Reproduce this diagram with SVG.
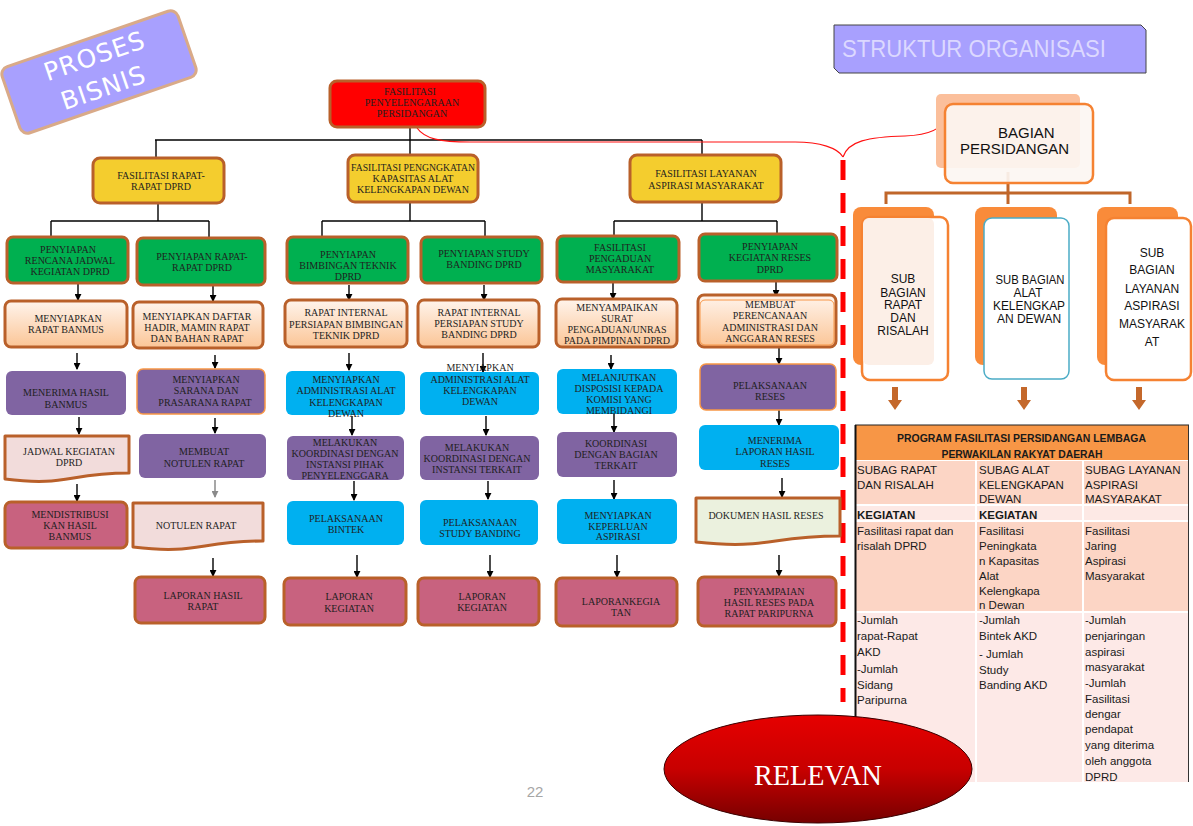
<svg xmlns="http://www.w3.org/2000/svg" width="1193" height="826" viewBox="0 0 1193 826">
<defs>
<linearGradient id="peach" x1="0" y1="0" x2="0" y2="1"><stop offset="0" stop-color="#FFF4EC"/><stop offset="1" stop-color="#FBC596"/></linearGradient>
<linearGradient id="relv" x1="0" y1="0" x2="0" y2="1"><stop offset="0" stop-color="#E60000"/><stop offset="0.5" stop-color="#C80000"/><stop offset="1" stop-color="#760000"/></linearGradient>
<marker id="ah" viewBox="0 0 8 8" refX="7" refY="4" markerWidth="7" markerHeight="7" markerUnits="userSpaceOnUse" orient="auto"><path d="M0,0 L8,4 L0,8 Z" fill="#000"/></marker>
<marker id="ahg" viewBox="0 0 8 8" refX="7" refY="4" markerWidth="7" markerHeight="7" markerUnits="userSpaceOnUse" orient="auto"><path d="M0,0 L8,4 L0,8 Z" fill="#8a8a8a"/></marker>
</defs>
<style>
.n text{font-family:"Liberation Serif",serif;font-size:10px;fill:#1f1f1f;text-anchor:middle}
.st{stroke:#B9602A;stroke-width:3}
.so{stroke:#F79646;stroke-width:1.5}
.g{fill:#00B050}
.y{fill:#F4CD2E}
.pe{fill:url(#peach)}
.pu{fill:#8064A2}
.c{fill:#00B0F0}
.r{fill:#C8627F}
.dp{fill:#F2DCDB}
.dg{fill:#EBF1DE}
.conn line{stroke:#000;stroke-width:1.4}
.ar{stroke:#000;stroke-width:1.2;marker-end:url(#ah)}
.sans{font-family:"Liberation Sans",Arial,sans-serif}
.tb text{font-family:"Liberation Sans",Arial,sans-serif;font-size:11.5px;fill:#1a1a1a}
.sub text{font-family:"Liberation Sans",Arial,sans-serif;font-size:12px;fill:#111;text-anchor:middle}
.blk{fill:#C4682B}
</style>
<rect width="1193" height="826" fill="#fff"/>

<!-- PROSES BISNIS -->
<g id="proses-bisnis" transform="rotate(-19 99 72)">
<rect x="6" y="37" width="186" height="70" rx="8" fill="#A8A0FE" stroke="#D9AA88" stroke-width="3"/>
<text x="100" y="64" font-family="DejaVu Sans,sans-serif" font-size="25" fill="#fff" text-anchor="middle" letter-spacing="1">PROSES</text>
<text x="98" y="97" font-family="DejaVu Sans,sans-serif" font-size="25" fill="#fff" text-anchor="middle" letter-spacing="1">BISNIS</text>
</g>

<!-- STRUKTUR ORGANISASI -->
<g id="struktur-organisasi">
<path d="M834,25 H1141 L1146,30 V73 H839 L834,68 Z" fill="#A8A0FE" stroke="#444" stroke-width="1"/>
<text x="842" y="57" class="sans" font-size="24" fill="#DCD8FF" textLength="264" lengthAdjust="spacingAndGlyphs">STRUKTUR ORGANISASI</text>
</g>

<!-- connectors -->
<g id="connectors" class="conn">
<line x1="410" y1="127" x2="410" y2="155"/>
<line x1="155" y1="140" x2="702" y2="140"/>
<line x1="156" y1="140" x2="156" y2="158"/>
<line x1="702" y1="140" x2="702" y2="155"/>
<line x1="158" y1="203" x2="158" y2="221"/>
<line x1="51" y1="221" x2="209" y2="221"/>
<line x1="51" y1="221" x2="51" y2="237"/>
<line x1="209" y1="221" x2="209" y2="238"/>
<line x1="410" y1="202" x2="410" y2="221"/>
<line x1="322" y1="221" x2="485" y2="221"/>
<line x1="322" y1="221" x2="322" y2="237"/>
<line x1="485" y1="221" x2="485" y2="237"/>
<line x1="702" y1="202" x2="702" y2="221"/>
<line x1="614" y1="221" x2="777" y2="221"/>
<line x1="614" y1="221" x2="614" y2="236"/>
<line x1="777" y1="221" x2="777" y2="234"/>
<!-- column arrows -->
<line class="ar" x1="78" y1="284" x2="78" y2="300"/>
<line class="ar" x1="77" y1="353" x2="77" y2="369"/>
<line class="ar" x1="79" y1="417" x2="79" y2="434"/>
<line class="ar" x1="77" y1="484" x2="77" y2="501"/>
<line class="ar" x1="213" y1="286" x2="213" y2="301"/>
<line class="ar" x1="215" y1="355" x2="215" y2="368"/>
<line class="ar" x1="215" y1="418" x2="215" y2="433"/>
<line x1="215" y1="480" x2="215" y2="497" style="stroke:#8a8a8a;stroke-width:1.5" marker-end="url(#ahg)"/>
<line class="ar" x1="213" y1="558" x2="213" y2="576"/>
<line class="ar" x1="349" y1="285" x2="349" y2="300"/>
<line class="ar" x1="349" y1="353" x2="349" y2="370"/>
<line class="ar" x1="352" y1="416" x2="352" y2="435"/>
<line class="ar" x1="354" y1="481" x2="354" y2="500"/>
<line class="ar" x1="357" y1="555" x2="357" y2="577"/>
<line class="ar" x1="484" y1="285" x2="484" y2="300"/>
<line class="ar" x1="483" y1="353" x2="483" y2="372"/>
<line class="ar" x1="486" y1="416" x2="486" y2="435"/>
<line class="ar" x1="488" y1="481" x2="488" y2="499"/>
<line class="ar" x1="490" y1="555" x2="490" y2="577"/>
<line class="ar" x1="613" y1="283" x2="613" y2="299"/>
<line class="ar" x1="611" y1="355" x2="611" y2="369"/>
<line class="ar" x1="614" y1="414" x2="614" y2="432"/>
<line class="ar" x1="614" y1="480" x2="614" y2="499"/>
<line class="ar" x1="617" y1="555" x2="617" y2="577"/>
<line class="ar" x1="776" y1="282" x2="776" y2="296"/>
<line class="ar" x1="779" y1="347" x2="779" y2="364"/>
<line class="ar" x1="779" y1="410" x2="779" y2="425"/>
<line class="ar" x1="782" y1="478" x2="782" y2="497"/>
<line class="ar" x1="779" y1="555" x2="779" y2="576"/>
<!-- red brace curve -->
<path d="M417,128 C425,139 440,142 470,142 L795,142 C820,142 838,148 843,157" fill="none" stroke="#FF1010" stroke-width="1.2"/>
<path d="M843,157 C848,141 868,137 905,136 C930,135 943,128 945,117" fill="none" stroke="#FF1010" stroke-width="1.2"/>
<line x1="843" y1="160" x2="843" y2="702" style="stroke:#FF0000;stroke-width:5;stroke-dasharray:20 13"/>
<!-- org chart connectors -->
<path d="M1008,172 V193 M886,204 V193 H1130 V204 M1008,193 V204" fill="none" stroke="#C0662A" stroke-width="3"/>
</g>

<!-- top -->
<g id="n-top" class="n"><rect x="330" y="81" width="155" height="46" rx="7" fill="#FF0000" class="st"/>
<text x="410" y="95">FASILITASI</text><text x="412" y="106">PENYELENGARAAN</text><text x="412" y="117">PERSIDANGAN</text></g>

<g id="n-a" class="n"><rect x="93" y="158" width="131" height="45" rx="7" class="y st"/>
<text x="161" y="178.5">FASILITASI RAPAT-</text><text x="161" y="189.5">RAPAT DPRD</text></g>
<g id="n-b" class="n"><rect x="348" y="155" width="130" height="47" rx="7" class="y st"/>
<text x="413" y="170.5" class="sans" font-size="9.5" textLength="124" lengthAdjust="spacingAndGlyphs">FASILITASI PENGNGKATAN</text>
<text x="413" y="181.5" class="sans" font-size="9.5">KAPASITAS ALAT</text>
<text x="413" y="192.5" class="sans" font-size="9.5">KELENGKAPAN DEWAN</text></g>
<g id="n-c" class="n"><rect x="630" y="155" width="151" height="47" rx="7" class="y st"/>
<text x="706" y="177">FASILITASI  LAYANAN</text><text x="706" y="188.5">ASPIRASI MASYARAKAT</text></g>

<!-- column 1 -->
<g id="c1-1" class="n"><rect x="7" y="237" width="121" height="46" rx="6" class="g st"/>
<text x="68" y="253">PENYIAPAN</text><text x="70" y="264">RENCANA JADWAL</text><text x="70" y="275">KEGIATAN DPRD</text></g>
<g id="c1-2" class="n"><rect x="5" y="301" width="122" height="46" rx="6" class="pe st"/>
<text x="68" y="322">MENYIAPKAN</text><text x="66" y="333">RAPAT BANMUS</text></g>
<g id="c1-3" class="n"><rect x="6" y="371" width="120" height="44" rx="6" class="pu"/>
<text x="66" y="396">MENERIMA HASIL</text><text x="66" y="407.5">BANMUS</text></g>
<g id="c1-4" class="n"><path d="M5,436 H129 V473 C67,473 67,487 5,479 Z" class="dp st" stroke-linejoin="round"/>
<text x="69" y="454.5">JADWAL KEGIATAN</text><text x="69" y="466">DPRD</text></g>
<g id="c1-5" class="n"><rect x="5" y="502" width="122" height="46" rx="6" class="r st"/>
<text x="70" y="518">MENDISTRIBUSI</text><text x="70" y="529">KAN HASIL</text><text x="70" y="540">BANMUS</text></g>

<!-- column 2 -->
<g id="c2-1" class="n"><rect x="137" y="238" width="128" height="47" rx="6" class="g st"/>
<text x="202" y="260">PENYIAPAN RAPAT-</text><text x="202" y="271">RAPAT DPRD</text></g>
<g id="c2-2" class="n"><rect x="133" y="302" width="130" height="46" rx="6" class="pe st"/>
<text x="197" y="320">MENYIAPKAN DAFTAR</text><text x="197" y="331">HADIR,  MAMIN RAPAT</text><text x="197" y="342">DAN BAHAN RAPAT</text></g>
<g id="c2-3" class="n"><rect x="137" y="369" width="128" height="45" rx="6" class="pu so"/>
<text x="206" y="383">MENYIAPKAN</text><text x="206" y="394">SARANA DAN</text><text x="205" y="406">PRASARANA RAPAT</text></g>
<g id="c2-4" class="n"><rect x="139" y="434" width="127" height="44" rx="6" class="pu"/>
<text x="204" y="455">MEMBUAT</text><text x="204" y="467">NOTULEN RAPAT</text></g>
<g id="c2-5" class="n"><path d="M133,503 H263 V541 C198,541 198,555 133,547 Z" class="dp st" stroke-linejoin="round"/>
<text x="196" y="529">NOTULEN RAPAT</text></g>
<g id="c2-6" class="n"><rect x="135" y="577" width="130" height="46" rx="6" class="r st"/>
<text x="203" y="599">LAPORAN HASIL</text><text x="203" y="610">RAPAT</text></g>

<!-- column 3 -->
<g id="c3-1" class="n"><rect x="287" y="237" width="121" height="46" rx="6" class="g st"/>
<text x="348" y="258">PENYIAPAN</text><text x="348" y="269">BIMBINGAN TEKNIK</text><text x="348" y="280">DPRD</text></g>
<g id="c3-2" class="n"><rect x="285" y="300" width="122" height="47" rx="6" class="pe st"/>
<text x="346" y="316">RAPAT INTERNAL</text><text x="346" y="327.5">PERSIAPAN BIMBINGAN</text><text x="346" y="339">TEKNIK DPRD</text></g>
<g id="c3-3" class="n"><rect x="286" y="371" width="119" height="44" rx="6" class="c"/>
<text x="346" y="382.5">MENYIAPKAN</text><text x="346" y="394">ADMINISTRASI ALAT</text><text x="346" y="405.5">KELENGKAPAN</text><text x="346" y="417">DEWAN</text></g>
<g id="c3-4" class="n"><rect x="287" y="436" width="117" height="44" rx="6" class="pu"/>
<text x="345" y="445.5">MELAKUKAN</text><text x="345" y="456.5">KOORDINASI DENGAN</text><text x="345" y="467.5">INSTANSI  PIHAK</text><text x="345" y="479">PENYELENGGARA</text></g>
<g id="c3-5" class="n"><rect x="287" y="501" width="117" height="44" rx="6" class="c"/>
<text x="346" y="521.5">PELAKSANAAN</text><text x="346" y="533">BINTEK</text></g>
<g id="c3-6" class="n"><rect x="284" y="578" width="122" height="47" rx="6" class="r st"/>
<text x="349" y="600">LAPORAN</text><text x="349" y="611.5">KEGIATAN</text></g>

<!-- column 4 -->
<g id="c4-1" class="n"><rect x="421" y="237" width="121" height="46" rx="6" class="g st"/>
<text x="484" y="256.5">PENYIAPAN STUDY</text><text x="484" y="267.5">BANDING DPRD</text></g>
<g id="c4-2" class="n"><rect x="418" y="300" width="121" height="47" rx="6" class="pe st"/>
<text x="479" y="315.5">RAPAT INTERNAL</text><text x="479" y="326.5">PERSIAPAN STUDY</text><text x="479" y="337.5">BANDING DPRD</text></g>
<g id="c4-3" class="n"><rect x="420" y="372" width="119" height="43" rx="6" class="c"/>
<text x="480" y="371">MENYIAPKAN</text><text x="480" y="382.5">ADMINISTRASI ALAT</text><text x="480" y="394">KELENGKAPAN</text><text x="480" y="405">DEWAN</text></g>
<g id="c4-4" class="n"><rect x="420" y="436" width="119" height="44" rx="6" class="pu"/>
<text x="477" y="450.5">MELAKUKAN</text><text x="477" y="462">KOORDINASI DENGAN</text><text x="477" y="472.5">INSTANSI TERKAIT</text></g>
<g id="c4-5" class="n"><rect x="420" y="500" width="118" height="45" rx="6" class="c"/>
<text x="480" y="525.5">PELAKSANAAN</text><text x="480" y="536.5">STUDY BANDING</text></g>
<g id="c4-6" class="n"><rect x="418" y="578" width="121" height="47" rx="6" class="r st"/>
<text x="482" y="599.5">LAPORAN</text><text x="482" y="611">KEGIATAN</text></g>

<!-- column 5 -->
<g id="c5-1" class="n"><rect x="557" y="236" width="122" height="46" rx="6" class="g st"/>
<text x="620" y="250.5">FASILITASI</text><text x="620" y="261.5">PENGADUAN</text><text x="620" y="272.5">MASYARAKAT</text></g>
<g id="c5-2" class="n"><rect x="556" y="299" width="121" height="48" rx="6" class="pe st"/>
<text x="617" y="310.5">MENYAMPAIKAN</text><text x="617" y="321.5">SURAT</text><text x="617" y="332.5">PENGADUAN/UNRAS</text><text x="617" y="343.5">PADA PIMPINAN DPRD</text></g>
<g id="c5-3" class="n"><rect x="557" y="369" width="120" height="45" rx="6" class="c"/>
<text x="619" y="380.5">MELANJUTKAN</text><text x="619" y="391.5">DISPOSISI KEPADA</text><text x="619" y="402.5">KOMISI YANG</text><text x="619" y="414">MEMBIDANGI</text></g>
<g id="c5-4" class="n"><rect x="557" y="432" width="120" height="45" rx="6" class="pu"/>
<text x="616" y="446.5">KOORDINASI</text><text x="616" y="457.5">DENGAN BAGIAN</text><text x="616" y="468.5">TERKAIT</text></g>
<g id="c5-5" class="n"><rect x="557" y="499" width="120" height="45" rx="6" class="c"/>
<text x="618" y="519">MENYIAPKAN</text><text x="618" y="529.5">KEPERLUAN</text><text x="618" y="540">ASPIRASI</text></g>
<g id="c5-6" class="n"><rect x="556" y="578" width="121" height="48" rx="6" class="r st"/>
<text x="621" y="604.5">LAPORANKEGIA</text><text x="621" y="615.5">TAN</text></g>

<!-- column 6 -->
<g id="c6-1" class="n"><rect x="699" y="234" width="138" height="47" rx="6" class="g st"/>
<text x="770" y="249.5">PENYIAPAN</text><text x="770" y="261">KEGIATAN RESES</text><text x="770" y="272.5">DPRD</text></g>
<g id="c6-2" class="n"><rect x="698" y="295" width="138" height="52" rx="6" class="pe st"/>
<rect x="700" y="300" width="134" height="45" rx="5" fill="none" stroke="#F79646" stroke-width="1"/>
<text x="770" y="307.5">MEMBUAT</text><text x="770" y="319">PERENCANAAN</text><text x="770" y="330.5">ADMINISTRASI DAN</text><text x="770" y="341.5">ANGGARAN RESES</text></g>
<g id="c6-3" class="n"><rect x="700" y="364" width="136" height="46" rx="6" class="pu so"/>
<text x="770" y="389">PELAKSANAAN</text><text x="770" y="400">RESES</text></g>
<g id="c6-4" class="n"><rect x="699" y="425" width="140" height="45" rx="6" class="c"/>
<text x="775" y="444">MENERIMA</text><text x="775" y="455">LAPORAN HASIL</text><text x="775" y="466.5">RESES</text></g>
<g id="c6-5" class="n"><path d="M696,498 H840 V536 C768,536 768,550 696,542 Z" class="dg st" stroke-linejoin="round"/>
<text x="766" y="519">DOKUMEN HASIL RESES</text></g>
<g id="c6-6" class="n"><rect x="698" y="577" width="138" height="49" rx="6" class="r st"/>
<text x="769" y="595">PENYAMPAIAN</text><text x="769" y="606">HASIL RESES PADA</text><text x="769" y="617">RAPAT PARIPURNA</text></g>

<!-- org chart -->
<g id="bagian-persidangan">
<rect x="936" y="94" width="144" height="74" rx="5" fill="#FBBF9B"/>
<rect x="945" y="104" width="148" height="79" rx="8" fill="#FCF6F2" fill-opacity="0.92" stroke="#F58232" stroke-width="2.5"/>
<text x="998" y="138" class="sans" font-size="15" fill="#111">BAGIAN</text>
<text x="960" y="154" class="sans" font-size="15" fill="#111">PERSIDANGAN</text>
</g>
<g id="sub-rapat" class="sub">
<rect x="853" y="207" width="81" height="158" rx="8" fill="#F98B3A"/>
<rect x="862" y="217" width="86" height="163" rx="8" fill="#fff" stroke="#F58232" stroke-width="2.5"/>
<rect x="863" y="218" width="71" height="147" rx="6" fill="#FCEFE7"/>
<text x="903" y="282.5">SUB</text><text x="903" y="297">BAGIAN</text><text x="903" y="309">RAPAT</text><text x="903" y="322">DAN</text><text x="903" y="335">RISALAH</text>
</g>
<g id="sub-alat" class="sub">
<rect x="975" y="207" width="82" height="158" rx="8" fill="#F98B3A"/>
<rect x="984" y="218" width="85" height="161" rx="8" fill="#fff" stroke="#4BACC6" stroke-width="1.5"/>
<text x="1030" y="284" font-size="11" textLength="69" lengthAdjust="spacingAndGlyphs">SUB  BAGIAN</text><text x="1028" y="296.5" font-size="11">ALAT</text><text x="1029" y="309.5" font-size="11" textLength="72" lengthAdjust="spacingAndGlyphs">KELENGKAP</text><text x="1029" y="322.5" font-size="11">AN DEWAN</text>
</g>
<g id="sub-layanan" class="sub">
<rect x="1097" y="207" width="81" height="158" rx="8" fill="#F98B3A"/>
<rect x="1106" y="218" width="85" height="162" rx="8" fill="#fff" stroke="#F58232" stroke-width="2.5"/>
<text x="1152" y="256.5">SUB</text><text x="1152" y="274">BAGIAN</text><text x="1152" y="292.5">LAYANAN</text><text x="1152" y="310">ASPIRASI</text><text x="1152" y="328">MASYARAK</text><text x="1152" y="346">AT</text>
</g>
<g id="down-arrows">
<path class="blk" d="M892,387 H898 V400 H902 L895,410 L888,400 H892 Z"/>
<path class="blk" d="M1021,387 H1027 V400 H1031 L1024,410 L1017,400 H1021 Z"/>
<path class="blk" d="M1136,387 H1142 V400 H1146 L1139,410 L1132,400 H1136 Z"/>
</g>

<!-- table -->
<g id="program-table" class="tb">
<rect x="855" y="425" width="334" height="35" fill="#F79646"/>
<rect x="856" y="461" width="119" height="43" fill="#FCD5C5"/>
<rect x="977" y="461" width="105" height="43" fill="#FCD5C5"/>
<rect x="1084" y="461" width="104" height="43" fill="#FCD5C5"/>
<rect x="856" y="506" width="119" height="14" fill="#FDE9E5"/>
<rect x="977" y="506" width="105" height="14" fill="#FDE9E5"/>
<rect x="1084" y="506" width="104" height="14" fill="#FDE9E5"/>
<rect x="856" y="522" width="119" height="89" fill="#FCD5C5"/>
<rect x="977" y="522" width="105" height="89" fill="#FCD5C5"/>
<rect x="1084" y="522" width="104" height="89" fill="#FCD5C5"/>
<rect x="856" y="613" width="119" height="169" fill="#FDE9E7"/>
<rect x="977" y="613" width="105" height="169" fill="#FDE9E7"/>
<rect x="1084" y="613" width="104" height="169" fill="#FDE9E7"/>
<line x1="855" y1="425" x2="1189" y2="425" stroke="#222" stroke-width="1.2"/>
<line x1="855.5" y1="425" x2="855.5" y2="782" stroke="#111" stroke-width="2"/>
<line x1="1188.5" y1="425" x2="1188.5" y2="782" stroke="#333" stroke-width="1"/>
<text x="1021.5" y="441.5" font-weight="bold" font-size="11" text-anchor="middle" textLength="249" lengthAdjust="spacingAndGlyphs">PROGRAM FASILITASI PERSIDANGAN LEMBAGA</text>
<text x="1022" y="457.5" font-weight="bold" font-size="11" text-anchor="middle" textLength="161" lengthAdjust="spacingAndGlyphs">PERWAKILAN RAKYAT DAERAH</text>
<text x="857" y="474">SUBAG RAPAT</text><text x="857" y="488.5">DAN RISALAH</text>
<text x="979" y="474">SUBAG ALAT</text><text x="979" y="488.5">KELENGKAPAN</text><text x="979" y="503">DEWAN</text>
<text x="1085" y="474">SUBAG LAYANAN</text><text x="1085" y="488.5">ASPIRASI</text><text x="1085" y="503">MASYARAKAT</text>
<text x="857" y="518.5" font-weight="bold">KEGIATAN</text><text x="979" y="518.5" font-weight="bold">KEGIATAN</text>
<text x="857" y="535">Fasilitasi rapat dan</text><text x="857" y="550">risalah DPRD</text>
<text x="979" y="535">Fasilitasi</text><text x="979" y="550">Peningkata</text><text x="979" y="564.5">n Kapasitas</text><text x="979" y="579.5">Alat</text><text x="979" y="595">Kelengkapa</text><text x="979" y="609">n Dewan</text>
<text x="1085" y="535">Fasilitasi</text><text x="1085" y="550">Jaring</text><text x="1085" y="564.5">Aspirasi</text><text x="1085" y="579.5">Masyarakat</text>
<text x="857" y="624">-Jumlah</text><text x="857" y="640">rapat-Rapat</text><text x="857" y="656">AKD</text><text x="857" y="673">-Jumlah</text><text x="857" y="689">Sidang</text><text x="857" y="704">Paripurna</text>
<text x="979" y="624">-Jumlah</text><text x="979" y="640">Bintek AKD</text><text x="979" y="657.5">- Jumlah</text><text x="979" y="674">Study</text><text x="979" y="689">Banding AKD</text>
<text x="1085" y="624">-Jumlah</text><text x="1085" y="640">penjaringan</text><text x="1085" y="656">aspirasi</text><text x="1085" y="671">masyarakat</text><text x="1085" y="687">-Jumlah</text><text x="1085" y="703">Fasilitasi</text><text x="1085" y="718">dengar</text><text x="1085" y="733">pendapat</text><text x="1085" y="749">yang diterima</text><text x="1085" y="765">oleh  anggota</text><text x="1085" y="781">DPRD</text>
</g>

<!-- RELEVAN -->
<g id="relevan">
<ellipse cx="818" cy="769" rx="154" ry="54" fill="url(#relv)" stroke="#3a0000" stroke-width="1"/>
<text x="818" y="785" font-family="Liberation Serif,serif" font-size="30" fill="#fff" text-anchor="middle" textLength="128" lengthAdjust="spacingAndGlyphs">RELEVAN</text>
</g>

<text id="page-number" x="535" y="797" class="sans" font-size="15" fill="#A6A6A6" text-anchor="middle">22</text>
</svg>
